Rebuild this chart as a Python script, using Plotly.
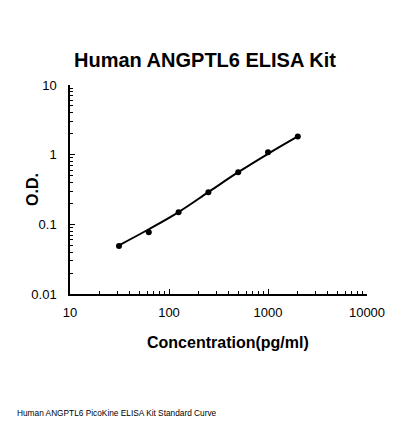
import plotly.graph_objects as go

conc = [31.25, 62.5, 125, 250, 500, 1000, 2000]
od = [0.049, 0.077, 0.149, 0.288, 0.557, 1.08, 1.83]
fit_conc = [31.25, 62.5, 125, 250, 500, 1000, 2000]
fit_od = [0.050, 0.085, 0.150, 0.290, 0.560, 1.03, 1.83]

x_ticks = [10, 100, 1000, 10000]
x_ticklabels = ["10", "100", "1000", "10000"]
y_ticks = [0.01, 0.1, 1, 10]
y_ticklabels = ["0.01", "0.1", "1", "10"]
x_minor = [m * d for d in (10, 100, 1000) for m in range(2, 10)]
y_minor = [m * d for d in (0.01, 0.1, 1) for m in range(2, 10)]

fig = go.Figure()
fig.add_trace(go.Scatter(x=fit_conc, y=fit_od, mode="lines",
                         line=dict(color="black", width=2, shape="spline"),
                         showlegend=False, hoverinfo="skip"))
fig.add_trace(go.Scatter(x=conc, y=od, mode="markers",
                         marker=dict(color="black", size=6),
                         showlegend=False))

# page body has an 8px offset; plot area targeted at x 70-367, y 85-294 of the screenshot
L, R, T, B = 70, 367, 85, 294
W, H = R - L, B - T
font = "Liberation Sans, Arial, sans-serif"
fig.update_layout(
    width=400, height=430,
    margin=dict(l=L - 8, r=400 - (R - 8), t=T - 8, b=430 - (B - 8)),
    paper_bgcolor="white", plot_bgcolor="white",
    font=dict(family=font, color="black"),
    xaxis=dict(type="log", range=[1, 4], tickvals=x_ticks, ticktext=x_ticklabels,
               showgrid=False, zeroline=False, showline=True, linecolor="black", linewidth=1.5,
               ticks="inside", ticklen=5, tickcolor="black", tickfont=dict(size=13),
               ticklabelstandoff=6,
               minor=dict(tickmode="array", tickvals=x_minor, ticks="inside", ticklen=3,
                          tickcolor="black", showgrid=False)),
    yaxis=dict(type="log", range=[-2, 1], tickvals=y_ticks, ticktext=y_ticklabels,
               showgrid=False, zeroline=False, showline=True, linecolor="black", linewidth=1.5,
               ticks="inside", ticklen=5, tickcolor="black", tickfont=dict(size=13),
               ticklabelstandoff=9,
               minor=dict(tickmode="array", tickvals=y_minor, ticks="inside", ticklen=3,
                          tickcolor="black", showgrid=False)),
    annotations=[
        dict(text="<b>Human ANGPTL6 ELISA Kit</b>", xref="paper", yref="paper",
             x=(205 - L) / W, y=1 + (T - 60) / H, showarrow=False, font=dict(size=20),
             xanchor="center", yanchor="middle"),
        dict(text="<b>O.D.</b>", xref="paper", yref="paper",
             x=(32 - L) / W, y=(B - 190) / H, showarrow=False, font=dict(size=16),
             textangle=-90, xanchor="center", yanchor="middle"),
        dict(text="<b>Concentration(pg/ml)</b>", xref="paper", yref="paper",
             x=(228 - L) / W, y=(B - 342) / H, showarrow=False, font=dict(size=16),
             xanchor="center", yanchor="middle"),
        dict(text="Human ANGPTL6 PicoKine ELISA Kit Standard Curve", xref="paper", yref="paper",
             x=(15 - L) / W, y=(B - 413) / H, showarrow=False, font=dict(size=8.3),
             xanchor="left", yanchor="middle"),
    ],
)
fig.write_html("out.html")
